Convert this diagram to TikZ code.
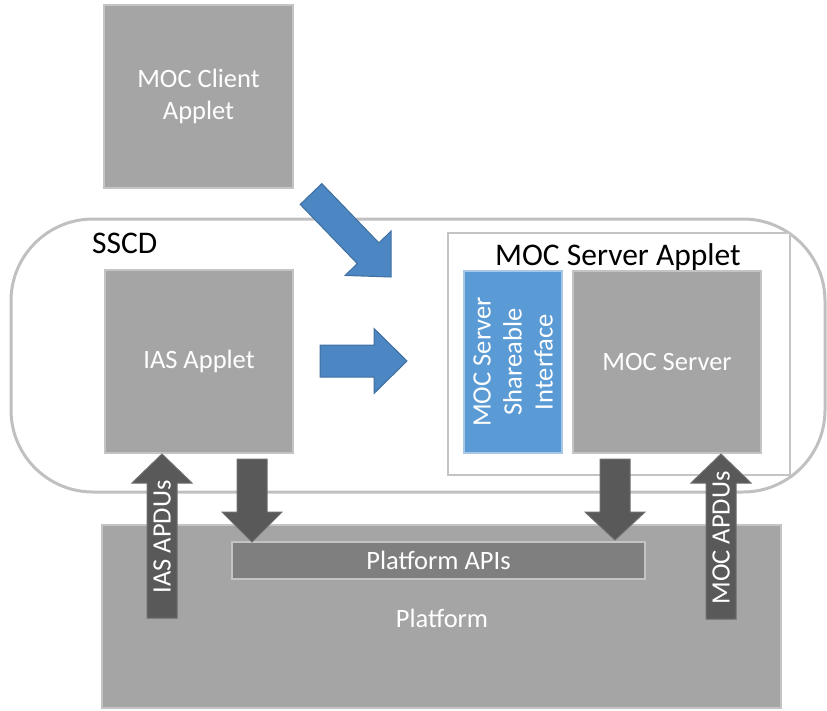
\documentclass[tikz,border=0pt]{standalone}
\usepackage{fontspec}
\setmainfont{Carlito}
\usetikzlibrary{calc}
\definecolor{boxgray}{HTML}{A5A5A5}
\definecolor{boxline}{HTML}{C4C4C4}
\definecolor{apigray}{HTML}{7F7F7F}
\definecolor{darkarrow}{HTML}{595959}
\definecolor{darkline}{HTML}{6E6E6E}
\definecolor{bluearrow}{HTML}{4C87C3}
\definecolor{blueline}{HTML}{3F6F9F}
\definecolor{bluebox}{HTML}{5B9BD5}
\definecolor{blueboxline}{HTML}{A8C6E6}
\definecolor{sscdline}{HTML}{C0C0C0}
\newcommand{\blockarrow}[6]{%
  \coordinate (ba-base) at ($(#3)!#6!(#2)$);
  \filldraw[#1] ($(#2)!#4!90:(#3)$) -- ($(ba-base)!#4!90:(#3)$) -- ($(ba-base)!#5!90:(#3)$) -- (#3) -- ($(ba-base)!#5!-90:(#3)$) -- ($(ba-base)!#4!-90:(#3)$) -- ($(#2)!#4!-90:(#3)$) -- cycle;
}
\tikzset{
  bodytext/.style={font=\fontsize{26.5pt}{31pt}\selectfont},
  titletext/.style={font=\fontsize{31.5pt}{36pt}\selectfont, text=black, inner sep=0pt},
  graybox/.style={rectangle, fill=boxgray, draw=boxline, line width=1.5pt, text=white, bodytext, align=center, inner sep=0pt},
  bluerect/.style={rectangle, fill=bluebox, draw=blueboxline, line width=1.5pt, text=white, bodytext, align=center, inner sep=0pt},
  apibar/.style={rectangle, fill=apigray, draw=boxline, line width=1.5pt, text=white, bodytext, inner sep=0pt},
  appletbox/.style={rectangle, fill=white, draw=boxline, line width=1.5pt, inner sep=0pt},
  sscdshape/.style={draw=sscdline, line width=3pt, rounded corners=82pt},
  bluearr/.style={fill=bluearrow, draw=blueline, line width=1pt, line join=miter},
  darkarr/.style={fill=darkarrow, draw=darkline, line width=1pt, line join=miter},
  arrowtext/.style={text=white, bodytext, rotate=90, inner sep=0pt},
}
\begin{document}
\begin{tikzpicture}[x=1pt, y=-1pt]
\useasboundingbox (0,0) rectangle (827,710);
% SSCD container
\draw[sscdshape] (11,219) rectangle (825,492);
\node[titletext, anchor=base west] (sscdlabel) at (92,253) {SSCD};
% MOC client applet
\node[graybox, minimum width=189pt, minimum height=183pt] (client) at (198.5,96.5) {MOC Client\\[1pt]Applet};
% IAS applet
\node[graybox, minimum width=188pt, minimum height=183pt] (ias) at (199,361.5) {IAS Applet};
% MOC server applet
\node[appletbox, minimum width=342pt, minimum height=242pt] (msa) at (619,354) {};
\node[titletext, anchor=base west] (msalabel) at (495,265) {MOC Server Applet};
\node[bluerect, minimum width=98pt, minimum height=182pt] (msi) at (513,362) {};
\node[text=white, bodytext, align=center, rotate=90, inner sep=0pt] (msitext) at (msi.center) {MOC Server\\Shareable\\Interface};
\node[graybox, minimum width=188pt, minimum height=182pt] (ms) at (667,362) {MOC Server};
% Platform
\node[graybox, minimum width=679pt, minimum height=183pt] (platform) at (441.5,616.5) {};
\node[text=white, bodytext, inner sep=0pt] (platformtext) at (442,618) {Platform};
\node[apibar, minimum width=413pt, minimum height=37pt] (apis) at (438.5,560.5) {Platform APIs};
% arrow end points
\coordinate (diagT) at (311,194);
\coordinate (diagP) at (391,277);
\coordinate (horT) at (320,361);
\coordinate (horP) at (407,361);
\coordinate (iasT) at (162,618);
\coordinate (iasP) at (162,454);
\coordinate (ldT) at (252,459);
\coordinate (ldP) at (252,542);
\coordinate (rdT) at (615,459);
\coordinate (rdP) at (615,540);
\coordinate (mocT) at (721,619);
\coordinate (mocP) at (721,454);
% blue arrows
\blockarrow{bluearr}{diagT}{diagP}{15pt}{32pt}{33pt}
\blockarrow{bluearr}{horT}{horP}{16pt}{32.5pt}{33pt}
% dark arrows
\blockarrow{darkarr}{iasT}{iasP}{15pt}{30pt}{29pt}
\blockarrow{darkarr}{ldT}{ldP}{15pt}{30pt}{30pt}
\blockarrow{darkarr}{rdT}{rdP}{15pt}{30pt}{28pt}
\blockarrow{darkarr}{mocT}{mocP}{15pt}{30pt}{29pt}
\node[arrowtext] (iaslabel) at (162,537) {IAS APDUs};
\node[arrowtext] (moclabel) at (721,538) {MOC APDUs};
\end{tikzpicture}
\end{document}
